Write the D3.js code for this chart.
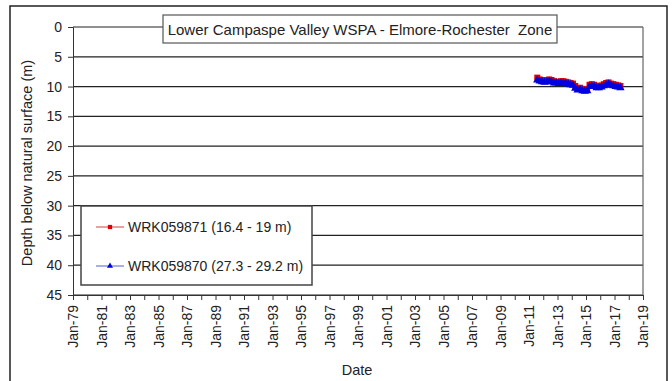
<!DOCTYPE html>
<html>
<head>
<meta charset="utf-8">
<script src="https://cdn.jsdelivr.net/npm/d3@7"></script>
<style>
  body { margin: 0; background: #fff; }
  text { font-family: "Liberation Sans", Arial, sans-serif; fill: #222; }
</style>
</head>
<body>
<svg id="chart" width="672" height="381"></svg>
<script>
// bore readings, depth below natural surface (m)
var dates = ["2011-08","2011-10","2011-12","2012-02","2012-04","2012-06","2012-08","2012-10","2012-12",
  "2013-02","2013-04","2013-06","2013-08","2013-10","2013-12","2014-02","2014-04","2014-06","2014-08",
  "2014-10","2014-12","2015-02","2015-04","2015-06","2015-08","2015-10","2015-12","2016-02","2016-04",
  "2016-06","2016-08","2016-10","2016-12","2017-02","2017-04","2017-06"];
var wrk871 = [8.5,8.8,8.9,9.0,8.9,8.8,8.9,9.1,9.2,9.2,9.1,9.1,9.2,9.3,9.4,9.5,9.9,10.3,10.2,
  10.4,10.5,10.4,9.7,9.6,9.7,9.9,9.9,9.8,9.6,9.4,9.3,9.5,9.6,9.7,9.8,9.9];
var wrk870 = [8.9,9.1,9.2,9.3,9.2,9.1,9.2,9.4,9.4,9.5,9.4,9.4,9.5,9.6,9.7,9.8,10.3,10.6,10.5,
  10.7,10.8,10.7,10.0,9.9,10.0,10.2,10.2,10.1,9.9,9.7,9.6,9.8,9.9,10.0,10.1,10.2];
var seriesNames = ["WRK059871 (16.4 - 19 m)", "WRK059870 (27.3 - 29.2 m)"];
var yTicks = [0,5,10,15,20,25,30,35,40,45];

var svg = d3.select("#chart");
var parse = d3.timeParse("%Y-%m");
var margin = {left: 73, right: 643, top: 27, bottom: 295};

var x = d3.scaleTime()
  .domain([new Date(1979,0,1), new Date(2019,0,1)])
  .range([margin.left, margin.right]);
var y = d3.scaleLinear().domain([0,45]).range([margin.top, margin.bottom]);

// outer frame
svg.append("rect").attr("x",10).attr("y",6).attr("width",657).attr("height",390)
  .attr("fill","#fff").attr("stroke","#222").attr("stroke-width",1.5);

// gridlines
svg.append("g").selectAll("line").data(yTicks.slice(1)).enter().append("line")
  .attr("x1", margin.left).attr("x2", margin.right)
  .attr("y1", function(d){ return y(d); }).attr("y2", function(d){ return y(d); })
  .attr("stroke","#222").attr("stroke-width",1.2);
svg.append("line").attr("x1",margin.left).attr("x2",margin.right)
  .attr("y1",y(0)).attr("y2",y(0)).attr("stroke","#222").attr("stroke-width",1.2);
svg.append("line").attr("x1",margin.right).attr("x2",margin.right)
  .attr("y1",y(0)).attr("y2",y(45)).attr("stroke","#666").attr("stroke-width",1.2);

// y axis
var yAxis = svg.append("g").attr("transform","translate(" + margin.left + ",0)")
  .call(d3.axisLeft(y).tickValues(yTicks).tickSize(5).tickPadding(6));
yAxis.selectAll("text").style("font-size","14px").attr("fill","#333");
yAxis.selectAll("line,path").attr("stroke","#333");

// x axis: yearly ticks, labels every 2 years
var years = d3.range(1979, 2020).map(function(v){ return new Date(v,0,1); });
var xAxis = svg.append("g").attr("transform","translate(0," + margin.bottom + ")")
  .call(d3.axisBottom(x).tickValues(years).tickSize(5)
    .tickFormat(function(d){ return d.getFullYear() % 2 ? d3.timeFormat("Jan-%y")(d) : ""; }));
xAxis.selectAll("line,path").attr("stroke","#333");
xAxis.selectAll("text").style("font-size","14px").attr("fill","#333")
  .attr("transform","rotate(-90)").attr("text-anchor","end")
  .attr("x",-10).attr("y",0).attr("dy","0.35em");

// axis titles
svg.append("text").attr("x",357).attr("y",375).attr("text-anchor","middle")
  .style("font-size","14.5px").text("Date");
svg.append("text").attr("transform","translate(32,163) rotate(-90)").attr("text-anchor","middle")
  .style("font-size","14.5px").text("Depth below natural surface (m)");

// series
var s871 = dates.map(function(d,i){ return {date: parse(d), v: wrk871[i]}; });
var s870 = dates.map(function(d,i){ return {date: parse(d), v: wrk870[i]}; });
var line = d3.line().x(function(d){ return x(d.date); }).y(function(d){ return y(d.v); });

svg.append("path").datum(s871).attr("d",line).attr("fill","none").attr("stroke","#e00000").attr("stroke-width",1.5);
svg.append("g").selectAll("rect").data(s871).enter().append("rect")
  .attr("x",function(d){ return x(d.date)-3; }).attr("y",function(d){ return y(d.v)-3; })
  .attr("width",6).attr("height",6).attr("fill","#e00000");

var tri = d3.symbol().type(d3.symbolTriangle).size(30);
svg.append("path").datum(s870).attr("d",line).attr("fill","none").attr("stroke","#1a1aff").attr("stroke-width",1.5);
svg.append("g").selectAll("path").data(s870).enter().append("path")
  .attr("d",tri).attr("fill","#0000e0")
  .attr("transform",function(d){ return "translate(" + x(d.date) + "," + y(d.v) + ")"; });

// title box
svg.append("rect").attr("x",163).attr("y",15).attr("width",394).attr("height",28)
  .attr("fill","#fff").attr("stroke","#555").attr("stroke-width",1.2);
svg.append("text").attr("x",360).attr("y",35).attr("text-anchor","middle")
  .attr("xml:space","preserve").style("white-space","pre")
  .style("font-size","15px").text("Lower Campaspe Valley WSPA - Elmore-Rochester  Zone");

// legend
var legend = svg.append("g");
legend.append("rect").attr("x",81).attr("y",206).attr("width",231).attr("height",79)
  .attr("fill","#fff").attr("stroke","#444").attr("stroke-width",1.5);
var colors = ["#e00000","#0000e0"];
var items = legend.selectAll("g.item").data(seriesNames).enter().append("g")
  .attr("transform",function(d,i){ return "translate(0," + (227 + i*39) + ")"; });
items.append("line").attr("x1",96).attr("x2",124).attr("y1",0).attr("y2",0)
  .attr("stroke",function(d,i){ return i ? "#5060d0" : "#d04040"; }).attr("stroke-width",1);
items.append("path")
  .attr("d",function(d,i){ return d3.symbol().type(i ? d3.symbolTriangle : d3.symbolSquare).size(i ? 16 : 18)(); })
  .attr("transform","translate(110,0)").attr("fill",function(d,i){ return colors[i]; });
items.append("text").attr("x",128).attr("y",0).attr("dy","0.35em")
  .style("font-size","14px").text(function(d){ return d; });
</script>
</body>
</html>
